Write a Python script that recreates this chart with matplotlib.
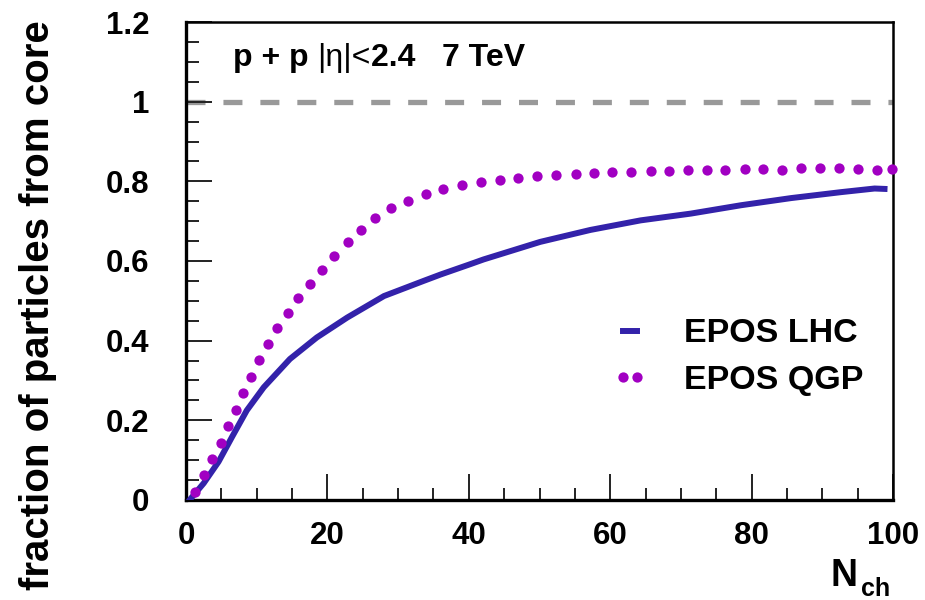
import matplotlib
matplotlib.use("Agg")
import matplotlib.pyplot as plt
from matplotlib.ticker import MultipleLocator, FuncFormatter

# EPOS LHC curve
nch_lhc = [0.6, 2.5, 4.6, 6.5, 8.6, 11.0, 14.7, 18.5, 22.8, 28.0, 33.6, 36.0,
           40.2, 42.1, 50.1, 57.2, 64.3, 71.4, 78.5, 85.6, 92.7, 97.4, 98.8]
frac_lhc = [0.002, 0.042, 0.096, 0.158, 0.225, 0.283, 0.354, 0.408, 0.458,
            0.512, 0.550, 0.566, 0.592, 0.604, 0.648, 0.678, 0.702, 0.719,
            0.740, 0.758, 0.773, 0.782, 0.781]

# EPOS QGP curve, one value per dot
nch_qgp = [1.2, 2.5, 3.7, 4.9, 6.0, 7.0, 8.1, 9.2, 10.3, 11.6, 12.9, 14.4,
           15.9, 17.6, 19.3, 21.0, 22.9, 24.7, 26.8, 29.0, 31.4, 34.0, 36.4,
           39.1, 41.7, 44.4, 47.0, 49.7, 52.4, 55.1, 57.7, 60.3, 63.0, 65.7,
           68.3, 71.0, 73.7, 76.3, 79.0, 81.6, 84.3, 87.0, 89.7, 92.4, 95.0,
           97.7, 99.8]
frac_qgp = [0.021, 0.063, 0.103, 0.143, 0.186, 0.227, 0.268, 0.310, 0.352,
            0.392, 0.431, 0.469, 0.508, 0.543, 0.578, 0.613, 0.647, 0.678,
            0.708, 0.732, 0.751, 0.768, 0.780, 0.791, 0.798, 0.803, 0.808,
            0.813, 0.816, 0.819, 0.820, 0.824, 0.823, 0.825, 0.825, 0.828,
            0.828, 0.828, 0.832, 0.832, 0.828, 0.833, 0.833, 0.833, 0.832,
            0.829, 0.832]

series_labels = ["EPOS LHC", "EPOS QGP"]
ref_level = 1.0
x_range = (0, 100)
y_range = (0, 1.2)

FONT = "Liberation Sans"
plt.rcParams["font.family"] = [FONT, "DejaVu Sans"]
plt.rcParams["font.weight"] = "bold"

fig = plt.figure(figsize=(9.25, 6), dpi=100)
ax = fig.add_axes([0.2011, 0.1667, 0.7643, 0.7966])

ax.axhline(ref_level, color="#999999", lw=3.8, linestyle=(0, (3.6, 3.4)), zorder=1)
ax.plot(nch_lhc, frac_lhc, color="#3322aa", lw=4.3, label=series_labels[0], zorder=3)
ax.plot(nch_qgp, frac_qgp, linestyle="none", marker="o", ms=7.4,
        markeredgewidth=0, color="#a100c2", label=series_labels[1],
        clip_on=False, zorder=4)

ax.set_xlim(*x_range)
ax.set_ylim(*y_range)

ax.xaxis.set_major_locator(MultipleLocator(20))
ax.xaxis.set_minor_locator(MultipleLocator(5))
ax.yaxis.set_major_locator(MultipleLocator(0.2))
ax.yaxis.set_minor_locator(MultipleLocator(0.05))
ax.yaxis.set_major_formatter(FuncFormatter(lambda v, p: f"{v:g}"))

ax.tick_params(which="both", direction="in", top=False, right=False,
               width=1.4, color="#222222")
ax.tick_params(which="major", length=19)
ax.tick_params(which="minor", length=9)
ax.tick_params(axis="y", which="major", pad=26.5, labelsize=22.5)
ax.tick_params(axis="x", which="major", pad=15.0, labelsize=22.5)
for lab in ax.get_xticklabels() + ax.get_yticklabels():
    lab.set_fontweight("bold")

for side in ["left", "bottom"]:
    ax.spines[side].set_linewidth(2.4)
for side in ["top", "right"]:
    ax.spines[side].set_linewidth(1.8)

leg = ax.legend(loc="center left", bbox_to_anchor=(0.604, 0.299), frameon=False,
                fontsize=24.5, handlelength=1.0, handletextpad=1.08,
                labelspacing=0.45, borderpad=0, borderaxespad=0, numpoints=2)
for t in leg.get_texts():
    t.set_fontweight("bold")

# header text: p + p |eta|<2.4  7 TeV (mixed bold / regular)
t1 = ax.text(0.0665, 0.908, "p + p ", transform=ax.transAxes, fontsize=23,
             fontweight="bold", va="baseline", ha="left")
t2 = ax.annotate("|η|<", xy=(1, 0), xycoords=t1, va="bottom", ha="left",
                 fontsize=23, fontweight="normal")
t3 = ax.annotate("2.4   7 TeV", xy=(1, 0), xycoords=t2, va="bottom", ha="left",
                 fontsize=23, fontweight="bold")

fig.text(0.041, 0.4917, "fraction of particles from core", rotation=90,
         ha="center", va="center", fontsize=29, fontweight="bold")

fig.text(0.898, 0.024, "N", fontsize=27, fontweight="bold", ha="left", va="baseline")
fig.text(0.931, 0.006, "ch", fontsize=18, fontweight="bold", ha="left", va="baseline")

fig.savefig("out.png", dpi=100)
